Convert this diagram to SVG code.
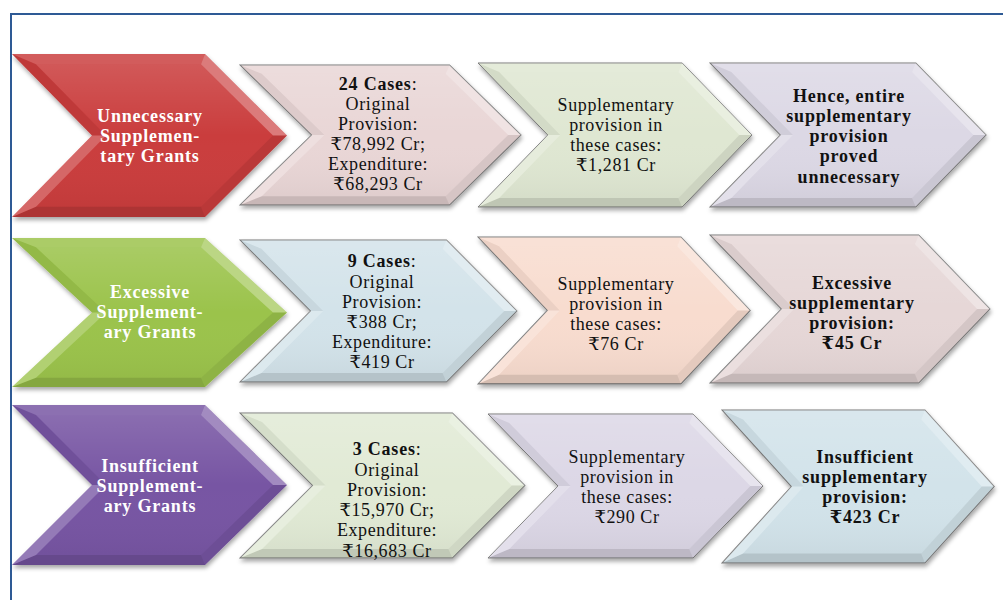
<svg xmlns="http://www.w3.org/2000/svg" xmlns:xlink="http://www.w3.org/1999/xlink" width="1003" height="600" viewBox="0 0 1003 600">
<style>
.t{font-family:'Liberation Serif','DejaVu Serif',serif;font-size:18px;text-anchor:middle;letter-spacing:0.6px;fill:#111}
.b{font-weight:bold;letter-spacing:0.8px}
.w{font-family:'Liberation Serif','DejaVu Serif',serif;font-size:18px;font-weight:bold;text-anchor:middle;letter-spacing:0.8px;fill:#fff}
.lt{stroke:#7a7a7a;stroke-width:1;vector-effect:non-scaling-stroke}
.f1{fill:#fff;fill-opacity:0.16}
.f2{fill:#fff;fill-opacity:0.32}
.f3{fill:#000;fill-opacity:0.08}
.f4{fill:#000;fill-opacity:0.14}
.f5{fill:#fff;fill-opacity:0.22}
.f6{fill:#000;fill-opacity:0.05}
.frame{stroke:#2e5a95;stroke-width:2;fill:none}
</style>
<defs>
<filter id="sh" x="-10%" y="-10%" width="130%" height="140%">
<feDropShadow dx="1" dy="3" stdDeviation="2" flood-color="#000" flood-opacity="0.35"/>
</filter>
<linearGradient id="gl" x1="0" y1="0" x2="0" y2="1">
<stop offset="0" stop-color="#fff" stop-opacity="0.14"/>
<stop offset="0.5" stop-color="#fff" stop-opacity="0"/>
<stop offset="1" stop-color="#000" stop-opacity="0.04"/>
</linearGradient>
<path id="chA" d="M0,0 H193 L275,80 L193,160 H0 L80,80 Z"/>
<g id="bevA">
<polygon class="f1" points="0,0 193,0 189,10 24,10"/>
<polygon class="f2" points="193,0 275,80 261,80 189,10"/>
<polygon class="f3" points="275,80 193,160 189,150 261,80"/>
<polygon class="f4" points="193,160 0,160 24,150 189,150"/>
<polygon class="f5" points="0,160 80,80 94,80 24,150"/>
<polygon class="f6" points="0,0 24,10 94,80 80,80"/>
<polygon fill="url(#gl)" points="24,10 189,10 261,80 189,150 24,150 94,80"/>
</g>
<path id="chB" d="M0,0 H205 L275,72 L205,144 H0 L70,72 Z"/>
<g id="bevB">
<polygon class="f1" points="0,0 205,0 201.2,9 21.3,9"/>
<polygon class="f2" points="205,0 275,72 262.4,72 201.2,9"/>
<polygon class="f3" points="275,72 205,144 201.2,135 262.4,72"/>
<polygon class="f4" points="205,144 0,144 21.3,135 201.2,135"/>
<polygon class="f5" points="0,144 70,72 82.6,72 21.3,135"/>
<polygon class="f6" points="0,0 21.3,9 82.6,72 70,72"/>
<polygon fill="url(#gl)" points="21.3,9 201.2,9 262.4,72 201.2,135 21.3,135 82.6,72"/>
</g>
</defs>
<rect width="1003" height="600" fill="#fff"/>
<path class="frame" d="M1003,14 H11 V600"/>

<g id="connectors"></g>

<!-- Row 1 -->
<g id="r1c1">
<g transform="translate(12,54) scale(1,1.019)"><use href="#chA" fill="#ca3c3c" filter="url(#sh)"/><use href="#bevA"/></g>
<text class="w" x="150" y="122">Unnecessary</text>
<text class="w" x="150" y="142">Supplemen-</text>
<text class="w" x="150" y="162">tary Grants</text>
</g>
<g id="r1c2">
<g transform="translate(240,65) scale(1.022,0.972)"><use href="#chB" class="lt" fill="#e9d6d6" filter="url(#sh)"/><use href="#bevB"/></g>
<text class="t" x="378" y="90"><tspan class="b">24 Cases</tspan>:</text>
<text class="t" x="378" y="110">Original</text>
<text class="t" x="378" y="130">Provision:</text>
<text class="t" x="378" y="150">₹78,992 Cr;</text>
<text class="t" x="378" y="170">Expenditure:</text>
<text class="t" x="378" y="190">₹68,293 Cr</text>
</g>
<g id="r1c3">
<g transform="translate(478,63) scale(0.996,1)"><use href="#chB" class="lt" fill="#dfe7d2" filter="url(#sh)"/><use href="#bevB"/></g>
<text class="t" x="616" y="111">Supplementary</text>
<text class="t" x="616" y="131">provision in</text>
<text class="t" x="616" y="151">these cases:</text>
<text class="t" x="616" y="171">₹1,281 Cr</text>
</g>
<g id="r1c4">
<g transform="translate(710,63) scale(1.004,1)"><use href="#chB" class="lt" fill="#dcd8e5" filter="url(#sh)"/><use href="#bevB"/></g>
<text class="t b" x="849" y="102">Hence, entire</text>
<text class="t b" x="849" y="122">supplementary</text>
<text class="t b" x="849" y="142">provision</text>
<text class="t b" x="849" y="162">proved</text>
<text class="t b" x="849" y="183">unnecessary</text>
</g>

<!-- Row 2 -->
<g id="r2c1">
<g transform="translate(12,238) scale(1,0.931)"><use href="#chA" fill="#9bc34b" filter="url(#sh)"/><use href="#bevA"/></g>
<text class="w" x="150" y="298">Excessive</text>
<text class="w" x="150" y="318">Supplement-</text>
<text class="w" x="150" y="338">ary Grants</text>
</g>
<g id="r2c2">
<g transform="translate(240,240) scale(1.007,0.986)"><use href="#chB" class="lt" fill="#d3e3ea" filter="url(#sh)"/><use href="#bevB"/></g>
<text class="t" x="382" y="267"><tspan class="b">9 Cases</tspan>:</text>
<text class="t" x="382" y="288">Original</text>
<text class="t" x="382" y="308">Provision:</text>
<text class="t" x="382" y="328">₹388 Cr;</text>
<text class="t" x="382" y="348">Expenditure:</text>
<text class="t" x="382" y="368">₹419 Cr</text>
</g>
<g id="r2c3">
<g transform="translate(478,237) scale(0.99,1.02)"><use href="#chB" class="lt" fill="#f8dccf" filter="url(#sh)"/><use href="#bevB"/></g>
<text class="t" x="616" y="290">Supplementary</text>
<text class="t" x="616" y="310">provision in</text>
<text class="t" x="616" y="330">these cases:</text>
<text class="t" x="616" y="350">₹76 Cr</text>
</g>
<g id="r2c4">
<g transform="translate(710,235) scale(1.018,1.028)"><use href="#chB" class="lt" fill="#e6d7d7" filter="url(#sh)"/><use href="#bevB"/></g>
<text class="t b" x="852" y="289">Excessive</text>
<text class="t b" x="852" y="309">supplementary</text>
<text class="t b" x="852" y="329">provision:</text>
<text class="t b" x="852" y="349">₹45 Cr</text>
</g>

<!-- Row 3 -->
<g id="r3c1">
<g transform="translate(12,405)"><use href="#chA" fill="#7754a3" filter="url(#sh)"/><use href="#bevA"/></g>
<text class="w" x="150" y="472">Insufficient</text>
<text class="w" x="150" y="492">Supplement-</text>
<text class="w" x="150" y="512">ary Grants</text>
</g>
<g id="r3c2">
<g transform="translate(240,413) scale(1.036,1.007)"><use href="#chB" class="lt" fill="#e1ead5" filter="url(#sh)"/><use href="#bevB"/></g>
<text class="t" x="387" y="455"><tspan class="b">3 Cases</tspan>:</text>
<text class="t" x="387" y="476">Original</text>
<text class="t" x="387" y="496">Provision:</text>
<text class="t" x="387" y="516">₹15,970 Cr;</text>
<text class="t" x="387" y="536">Expenditure:</text>
<text class="t" x="387" y="557">₹16,683 Cr</text>
</g>
<g id="r3c3">
<g transform="translate(488,414)"><use href="#chB" class="lt" fill="#dcd7e6" filter="url(#sh)"/><use href="#bevB"/></g>
<text class="t" x="627" y="463">Supplementary</text>
<text class="t" x="627" y="483">provision in</text>
<text class="t" x="627" y="503">these cases:</text>
<text class="t" x="627" y="523">₹290 Cr</text>
</g>
<g id="r3c4">
<g transform="translate(722,410) scale(0.99,1.063)"><use href="#chB" class="lt" fill="#d2e3ea" filter="url(#sh)"/><use href="#bevB"/></g>
<text class="t b" x="865" y="463">Insufficient</text>
<text class="t b" x="865" y="483">supplementary</text>
<text class="t b" x="865" y="503">provision:</text>
<text class="t b" x="865" y="523">₹423 Cr</text>
</g>
</svg>
